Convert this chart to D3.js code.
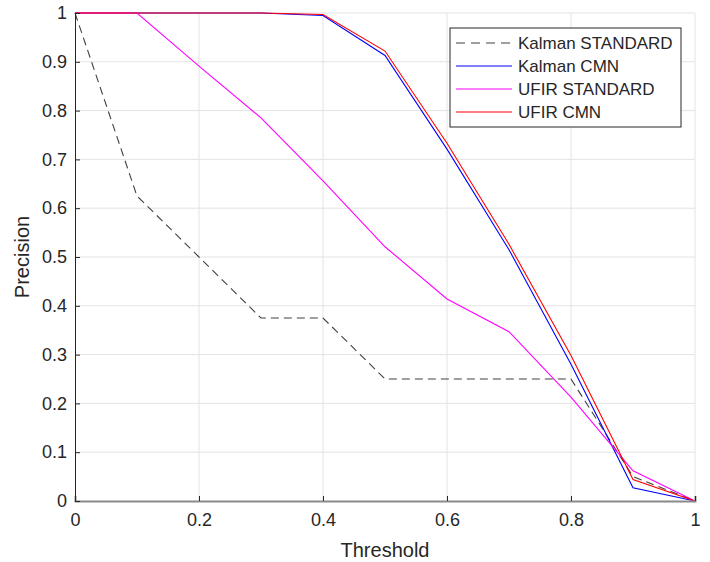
<!DOCTYPE html>
<html>
<head>
<meta charset="utf-8">
<script src="https://cdn.jsdelivr.net/npm/d3@7"></script>
<style>
  body { margin: 0; background: #fff; }
  svg text { font-family: "Liberation Sans", Arial, sans-serif; fill: #262626; }
</style>
</head>
<body>
<div id="chart"></div>
<script>
// threshold values on the x axis
const thresholds = [0, 0.1, 0.2, 0.3, 0.4, 0.5, 0.6, 0.7, 0.8, 0.9, 1];

// precision per series
const kalmanStandard = [1, 0.625, 0.5, 0.375, 0.375, 0.25, 0.25, 0.25, 0.25, 0.05, 0];
const kalmanCmn = [1, 1, 1, 1, 0.995, 0.913, 0.721, 0.515, 0.28, 0.027, 0];
const ufirStandard = [1, 1, 0.891, 0.785, 0.656, 0.521, 0.414, 0.347, 0.213, 0.062, 0];
const ufirCmn = [1, 1, 1, 1, 0.997, 0.922, 0.733, 0.526, 0.298, 0.044, 0];

const seriesNames = ['Kalman STANDARD', 'Kalman CMN', 'UFIR STANDARD', 'UFIR CMN'];

const xTicks = [0, 0.2, 0.4, 0.6, 0.8, 1];
const yTicks = [0, 0.1, 0.2, 0.3, 0.4, 0.5, 0.6, 0.7, 0.8, 0.9, 1];

const W = 710, H = 562;
const margin = { left: 75, right: 15, top: 13, bottom: 61 };

const svg = d3.select('#chart')
  .append('svg')
  .attr('width', W)
  .attr('height', H);

const x = d3.scaleLinear().domain([0, 1]).range([margin.left, W - margin.right]);
const y = d3.scaleLinear().domain([0, 1]).range([H - margin.bottom, margin.top]);

// grid
const grid = svg.append('g').attr('class', 'grid');
grid.selectAll('line.gx')
  .data(xTicks.filter((d) => d > 0))
  .enter()
  .append('line')
  .attr('x1', (d) => x(d)).attr('x2', (d) => x(d))
  .attr('y1', y(0)).attr('y2', y(1))
  .attr('stroke', '#e3e3e3');
grid.selectAll('line.gy')
  .data(yTicks.filter((d) => d > 0))
  .enter()
  .append('line')
  .attr('x1', x(0)).attr('x2', x(1))
  .attr('y1', (d) => y(d)).attr('y2', (d) => y(d))
  .attr('stroke', '#e3e3e3');

// series
const series = [
  { name: seriesNames[0], values: kalmanStandard, color: '#404040', dash: '8,5' },
  { name: seriesNames[1], values: kalmanCmn, color: '#0000ff', dash: null },
  { name: seriesNames[2], values: ufirStandard, color: '#ff00ff', dash: null },
  { name: seriesNames[3], values: ufirCmn, color: '#ff0000', dash: null },
];

const line = d3.line()
  .x((d) => x(d[0]))
  .y((d) => y(d[1]));

svg.append('g')
  .selectAll('path.series')
  .data(series)
  .enter()
  .append('path')
  .attr('class', 'series')
  .attr('fill', 'none')
  .attr('stroke', (d) => d.color)
  .attr('stroke-width', 1.1)
  .attr('stroke-dasharray', (d) => d.dash)
  .attr('d', (d) => line(thresholds.map((t, i) => [t, d.values[i]])));

// axes (ticks inward like matlab)
const xAxis = svg.append('g')
  .attr('transform', `translate(0,${y(0)})`)
  .call(d3.axisBottom(x).tickValues(xTicks).tickSize(-5).tickPadding(10).tickFormat(d3.format('')));
xAxis.select('.domain').attr('stroke', '#8a8a8a').attr('stroke-width', 2);
xAxis.selectAll('.tick line').attr('stroke', '#262626');
xAxis.selectAll('.tick text').attr('dy', '0.85em');

const yAxis = svg.append('g')
  .attr('transform', `translate(${x(0)},0)`)
  .call(d3.axisLeft(y).tickValues(yTicks).tickSize(-5).tickPadding(8).tickFormat(d3.format('')));
yAxis.select('.domain').attr('stroke', '#262626').attr('stroke-width', 1);
yAxis.selectAll('.tick line').attr('stroke', '#262626');

svg.selectAll('.tick text')
  .style('font-family', '"Liberation Sans", Arial, sans-serif')
  .style('font-size', '18px')
  .attr('fill', '#262626');

// axis labels
svg.append('text')
  .attr('x', x(0.5))
  .attr('y', 557)
  .attr('text-anchor', 'middle')
  .style('font-size', '20px')
  .text('Threshold');

svg.append('text')
  .attr('transform', `translate(29,${y(0.5)}) rotate(-90)`)
  .attr('text-anchor', 'middle')
  .style('font-size', '20px')
  .text('Precision');

// legend
const legend = svg.append('g').attr('transform', 'translate(450,28)');
legend.append('rect')
  .attr('width', 231)
  .attr('height', 99)
  .attr('fill', '#fff')
  .attr('stroke', '#262626')
  .attr('stroke-width', 1);

const item = legend.selectAll('g.item')
  .data(series)
  .enter()
  .append('g')
  .attr('class', 'item')
  .attr('transform', (d, i) => `translate(0,${15 + i * 23})`);

item.append('line')
  .attr('x1', 6).attr('x2', 62)
  .attr('stroke', (d) => d.color)
  .attr('stroke-width', 1.1)
  .attr('stroke-dasharray', (d) => (d.dash ? '9,6' : null));

item.append('text')
  .attr('x', 68)
  .attr('dy', '0.36em')
  .style('font-size', '17px')
  .text((d) => d.name);
</script>
</body>
</html>
